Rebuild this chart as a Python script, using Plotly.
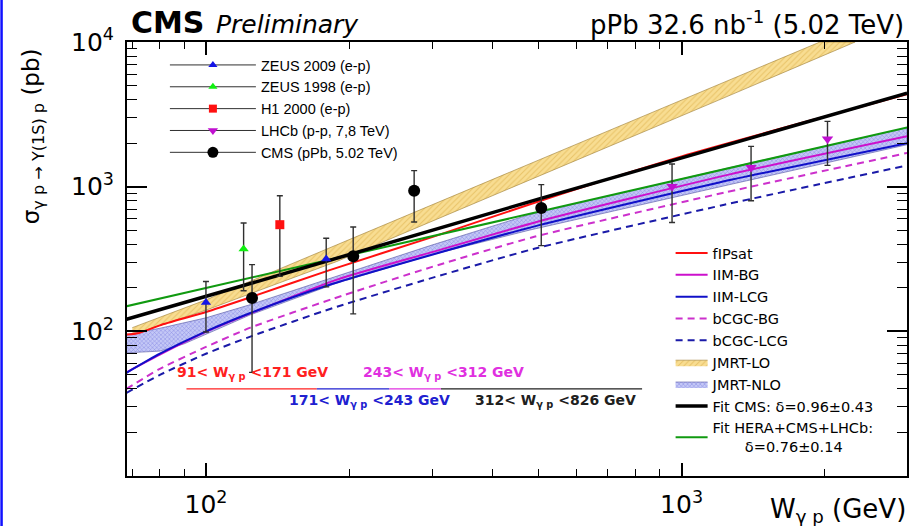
import plotly.graph_objects as go

# ---------------- data ----------------
# measurements (W in GeV, sigma in pb, with upper / lower error-bar ends)
zeus09_w = [100, 179]
zeus09_s = [158, 316]
zeus09_hi = [221, 440]
zeus09_lo = [99, 203]

zeus98_w = [120]
zeus98_s = [371]
zeus98_hi = [561]
zeus98_lo = [191]

h1_w = [143]
h1_s = [546]
h1_hi = [866]
h1_lo = [240]

lhcb_w = [955, 1400, 2027]
lhcb_s = [1004, 1359, 2137]
lhcb_hi = [1436, 1900, 2826]
lhcb_lo = [566, 800, 1403]

cms_w = [125, 204, 274, 507]
cms_s = [170, 330, 938, 713]
cms_hi = [289, 526, 1290, 1033]
cms_lo = [52, 132, 570, 391]

# theory curves
fipsat_w = [68, 72, 80, 100, 124, 182, 300, 500, 1000, 2000, 2980]
fipsat_s = [95, 97, 110, 136, 172, 265, 450, 790, 1620, 3050, 4350]

iimbg_w = [68, 80, 100, 124, 188, 300, 500, 1257, 2980]
iimbg_s = [52, 69, 99, 133, 227, 354, 575, 1211, 2230]

iimlcg_w = [68, 80, 100, 124, 182, 300, 500, 1200, 2980]
iimlcg_s = [51.6, 70, 100, 134, 210, 340, 540, 1070, 2000]

bcgcbg_w = [68, 80, 100, 124, 185, 300, 490, 1230, 2980]
bcgcbg_s = [40, 55, 78, 106, 168, 280, 450, 910, 1710]

bcgclcg_w = [68, 80, 100, 124, 185, 300, 490, 1230, 2980]
bcgclcg_s = [37.5, 50, 70, 92, 145, 235, 372, 750, 1400]

# JMRT bands (upper / lower edges)
lo_up_w = [70, 100, 188, 274, 341, 1197, 1954]
lo_up_s = [106, 165, 395, 664, 895, 5060, 10000]
lo_dn_w = [70, 100, 188, 274, 341, 1197, 2317]
lo_dn_s = [95, 140, 303, 512, 693, 3966, 10000]

nlo_up_w = [68, 80, 100, 124, 188, 295, 478, 1257, 2980]
nlo_up_s = [95, 105, 124, 153, 240, 390, 640, 1350, 2550]
nlo_dn_w = [68, 80, 90, 100, 124, 188, 300, 478, 1257, 2980]
nlo_dn_s = [71, 73, 82, 96, 130, 215, 340, 500, 1030, 1950]

# power-law fits
fitcms_w = [68, 124, 500, 2980]
fitcms_s = [121, 214, 820, 4430]
fitall_w = [68, 188, 478, 2980]
fitall_s = [149, 321, 648, 2570]

# W ranges of the CMS bins
bin_edges = [91, 171, 243, 312, 826]
bin_level = 40
bin_colors = ["#ff2020", "#2020d0", "#e030e0", "#202020"]
bin_labels = ["91< W<sub>γ p</sub> <171 GeV", "171< W<sub>γ p</sub> <243 GeV",
              "243< W<sub>γ p</sub> <312 GeV", "312< W<sub>γ p</sub> <826 GeV"]

# ---------------- figure ----------------
FONT = "Liberation Sans, Arial, Helvetica, sans-serif"
WIDE = "DejaVu Sans, Liberation Sans, sans-serif"
W, H = 915, 526
ML, MR, MT, MB = 127, 6, 42, 50
PW, PH = W - ML - MR, H - MT - MB


def px(x):
    return (x - ML) / PW


def py(y):
    return (H - MB - y) / PH


fig = go.Figure()

# JMRT-LO band
fig.add_trace(go.Scatter(
    x=lo_up_w + lo_dn_w[::-1], y=lo_up_s + lo_dn_s[::-1],
    fill="toself", mode="lines", line=dict(width=0.6, color="#9a7a30"),
    fillcolor="#f6d98a",
    fillpattern=dict(shape="/", bgcolor="#f8dd92", fgcolor="#d8a840", size=4, solidity=0.25),
    name="JMRT-LO", legend="legend2", legendrank=6, hoverinfo="skip"))
# JMRT-NLO band
fig.add_trace(go.Scatter(
    x=nlo_up_w + nlo_dn_w[::-1], y=nlo_up_s + nlo_dn_s[::-1],
    fill="toself", mode="lines", line=dict(width=0.6, color="#5050a0"),
    fillcolor="#b9bdf2",
    fillpattern=dict(shape="x", bgcolor="#c4c8f6", fgcolor="#4a4ad0", size=3, solidity=0.3),
    name="JMRT-NLO", legend="legend2", legendrank=7, hoverinfo="skip"))

curves = [
    (fipsat_w, fipsat_s, "fIPsat", "#ff1010", "solid", 2, 1),
    (iimbg_w, iimbg_s, "IIM-BG", "#cc10cc", "solid", 2, 2),
    (iimlcg_w, iimlcg_s, "IIM-LCG", "#1010c8", "solid", 2, 3),
    (bcgcbg_w, bcgcbg_s, "bCGC-BG", "#cc30cc", "7px,5px", 2, 4),
    (bcgclcg_w, bcgclcg_s, "bCGC-LCG", "#1a1aa8", "7px,5px", 2, 5),
]
for xw, ys, nm, col, dash, wd, rk in curves:
    fig.add_trace(go.Scatter(x=xw, y=ys, mode="lines", name=nm,
                             line=dict(color=col, dash=dash, width=wd, shape="spline", smoothing=0.6),
                             legend="legend2", legendrank=rk))

fig.add_trace(go.Scatter(x=fitall_w, y=fitall_s, mode="lines",
                         name="Fit HERA+CMS+LHCb:<br>" + "\u00a0" * 7 + "δ=0.76±0.14",
                         line=dict(color="#109a10", width=2), legend="legend2", legendrank=9))
fig.add_trace(go.Scatter(x=fitcms_w, y=fitcms_s, mode="lines",
                         name="Fit CMS: δ=0.96±0.43",
                         line=dict(color="black", width=3.5), legend="legend2", legendrank=8))

# bin range lines
for i in range(len(bin_colors)):
    fig.add_trace(go.Scatter(x=[bin_edges[i], bin_edges[i + 1]], y=[bin_level, bin_level],
                             mode="lines", line=dict(color=bin_colors[i], width=1.3),
                             showlegend=False, hoverinfo="skip"))

# measurements
meas = [
    (zeus09_w, zeus09_s, zeus09_hi, zeus09_lo, "ZEUS 2009 (e-p)", "#1414e6", "triangle-up", 9),
    (zeus98_w, zeus98_s, zeus98_hi, zeus98_lo, "ZEUS 1998 (e-p)", "#10f010", "triangle-up", 9),
    (h1_w, h1_s, h1_hi, h1_lo, "H1 2000 (e-p)", "#ff1010", "square", 9),
    (lhcb_w, lhcb_s, lhcb_hi, lhcb_lo, "LHCb (p-p, 7,8 TeV)", "#c010d0", "triangle-down", 10),
    (cms_w, cms_s, cms_hi, cms_lo, "CMS (pPb, 5.02 TeV)", "black", "circle", 12),
]
for k, (xw, ys, hi, lo, nm, col, sym, sz) in enumerate(meas):
    fig.add_trace(go.Scatter(
        x=xw, y=ys, mode="markers", showlegend=False, name=nm,
        marker=dict(color=col, symbol=sym, size=sz, line=dict(width=0)),
        error_y=dict(type="data", symmetric=False,
                     array=[h - s for h, s in zip(hi, ys)],
                     arrayminus=[s - l for s, l in zip(ys, lo)],
                     color="#303030", thickness=1.4, width=3)))
    # legend entry (line + marker)
    fig.add_trace(go.Scatter(
        x=[None], y=[None], mode="lines+markers", name=nm,
        line=dict(color="#303030", width=1),
        marker=dict(color=col, symbol=sym, size=sz - 1),
        legend="legend", legendrank=k + 1))

# ---------------- annotations ----------------
ann = []
lab_pos = [(253, 373), (370, 401), (444.5, 373), (556.7, 401)]
for (lx, ly), txt, col in zip(lab_pos, bin_labels, bin_colors):
    ann.append(dict(x=px(lx), y=py(ly), xref="paper", yref="paper", xanchor="center", yanchor="middle",
                    text="<b>" + txt + "</b>",
                    showarrow=False, font=dict(size=14, color=col, family=WIDE)))

ann.append(dict(x=px(129), y=py(23), xref="paper", yref="paper", xanchor="left", yanchor="middle",
                text="<b>CMS</b>", showarrow=False, font=dict(size=30, color="black", family=WIDE)))
ann.append(dict(x=px(214), y=py(24), xref="paper", yref="paper", xanchor="left", yanchor="middle",
                text="<i>Preliminary</i>", showarrow=False, font=dict(size=25, color="black", family=WIDE)))
ann.append(dict(x=px(908), y=py(23), xref="paper", yref="paper", xanchor="right", yanchor="middle",
                text="pPb 32.6 nb<sup>-1</sup> (5.02 TeV)", showarrow=False,
                font=dict(size=26, color="black", family=WIDE)))
ann.append(dict(x=px(910), y=py(510), xref="paper", yref="paper", xanchor="right", yanchor="middle",
                text="W<sub>γ p</sub> (GeV)", showarrow=False,
                font=dict(size=26, color="black", family=WIDE)))
ann.append(dict(x=px(33), y=py(46), xref="paper", yref="paper", xanchor="center", yanchor="top",
                textangle=-90, text="σ<sub>γ p → Υ(1S) p</sub> (pb)", showarrow=False,
                font=dict(size=23, color="black", family=WIDE)))

shapes = [dict(type="rect", xref="paper", yref="paper", x0=px(0), x1=px(2.5), y0=py(H), y1=py(0),
               fillcolor="#1010ff", line=dict(width=0), layer="above")]

x_major = [100, 1000]
x_major_txt = ["10<sup>2</sup>", "10<sup>3</sup>"]
x_minor = [70, 80, 90, 200, 300, 400, 500, 600, 700, 800, 900, 2000]
y_major = [100, 1000, 10000]
y_major_txt = ["10<sup>2</sup>", "10<sup>3</sup>", "10<sup>4</sup>"]
y_minor = [20, 30, 40, 50, 60, 70, 80, 90, 200, 300, 400, 500, 600, 700, 800, 900,
           2000, 3000, 4000, 5000, 6000, 7000, 8000, 9000]

fig.update_layout(
    width=W, height=H, margin=dict(l=ML, r=MR, t=MT, b=MB),
    paper_bgcolor="white", plot_bgcolor="white",
    font=dict(family=FONT, color="black"),
    annotations=ann, shapes=shapes,
    xaxis=dict(type="log", range=[1.834, 3.474], showgrid=False, zeroline=False,
               showline=True, linecolor="black", linewidth=2, mirror="ticks",
               ticks="inside", ticklen=13, tickwidth=1.5, tickcolor="black",
               tickvals=x_major, ticktext=x_major_txt, tickfont=dict(size=25, family=WIDE),
               ticklabelstandoff=5,
               minor=dict(ticks="inside", ticklen=7, tickwidth=1.2, tickcolor="black",
                          tickvals=x_minor, showgrid=False)),
    yaxis=dict(type="log", range=[1.0, 4.0], showgrid=False, zeroline=False,
               showline=True, linecolor="black", linewidth=2, mirror="ticks",
               ticks="inside", ticklen=20, tickwidth=1.5, tickcolor="black",
               tickvals=y_major, ticktext=y_major_txt, tickfont=dict(size=25, family=WIDE),
               ticklabelstandoff=6,
               minor=dict(ticks="inside", ticklen=10, tickwidth=1.2, tickcolor="black",
                          tickvals=y_minor, showgrid=False)),
    legend=dict(x=px(165), y=py(49), xanchor="left", yanchor="top",
                bgcolor="rgba(0,0,0,0)", font=dict(size=14.5, family=FONT),
                itemwidth=86, tracegroupgap=0),
    legend2=dict(x=px(672), y=py(237), xanchor="left", yanchor="top",
                 bgcolor="rgba(0,0,0,0)", font=dict(size=14.5, family=WIDE),
                 itemwidth=32, tracegroupgap=0),
)

fig.write_html("out.html")
